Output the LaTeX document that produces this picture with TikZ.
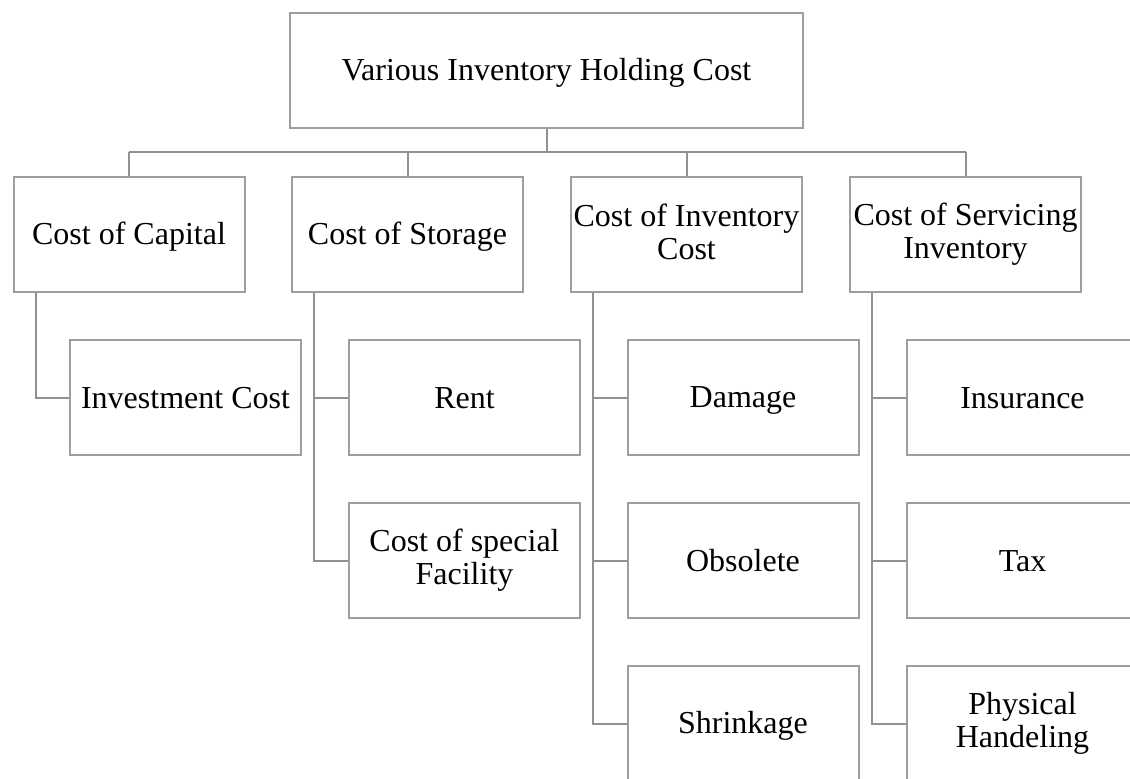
\documentclass[tikz,border=0pt]{standalone}
\usepackage{fontspec}
\setmainfont{Liberation Serif}
\definecolor{boxgray}{RGB}{158,158,158}
\definecolor{linegray}{RGB}{145,145,145}
\newcommand{\boxstrut}{\rule[-5pt]{0pt}{31pt}}
\tikzset{
	costbox/.style={draw=boxgray, line width=2pt, minimum width=231pt, minimum height=115pt,
		inner sep=0pt, align=center, font=\fontsize{32}{33}\selectfont,
		execute at begin node=\boxstrut, execute at end node=\boxstrut},
	link/.style={draw=linegray, line width=2pt}
}

\begin{document}
\begin{tikzpicture}[x=1pt,y=-1pt]
		\useasboundingbox (0,0) rectangle (1130,779);
		\clip (0,0) rectangle (1130,779);

		% top box
		\node[costbox, minimum width=513pt] (holding) at (546.5,70.5) {Various Inventory Holding Cost};

		% first level
		\node[costbox] (capital) at (129,234.5) {Cost of Capital};
		\node[costbox] (storage) at (407.5,234.5) {Cost of Storage};
		\node[costbox] (invcost) at (686.5,234.5) {Cost of Inventory\\Cost};
		\node[costbox] (service) at (965.5,234.5) {Cost of Servicing\\Inventory};

		% second level
		\node[costbox] (invest) at (185.5,397.5) {Investment Cost};
		\node[costbox] (rent) at (464.5,397.5) {Rent};
		\node[costbox] (special) at (464.5,560.5) {Cost of special\\Facility};
		\node[costbox] (damage) at (743,397.5) {Damage};
		\node[costbox] (obsolete) at (743,560.5) {Obsolete};
		\node[costbox] (shrink) at (743,723.5) {Shrinkage};
		\node[costbox] (insure) at (1022.5,397.5) {Insurance};
		\node[costbox] (tax) at (1022.5,560.5) {Tax};
		\node[costbox] (handle) at (1022.5,723.5) {Physical\\Handeling};

		% bus from the top box
		\coordinate (bus) at (546.5,152);
		\draw[link] (holding.south) -- (bus);
		\foreach \n in {capital,storage,invcost,service} {
				\draw[link] (bus -| \n.north) -- (\n.north);
			}
		\draw[link] (bus -| capital.north) -- (bus -| service.north);

		% spines to the second level
		\foreach \p/\c in {capital/invest, storage/rent, storage/special,
				invcost/damage, invcost/obsolete, invcost/shrink,
				service/insure, service/tax, service/handle} {
				\draw[link] ([xshift=23pt]\p.south west) |- (\c.west);
			}

	\end{tikzpicture}
\end{document}
